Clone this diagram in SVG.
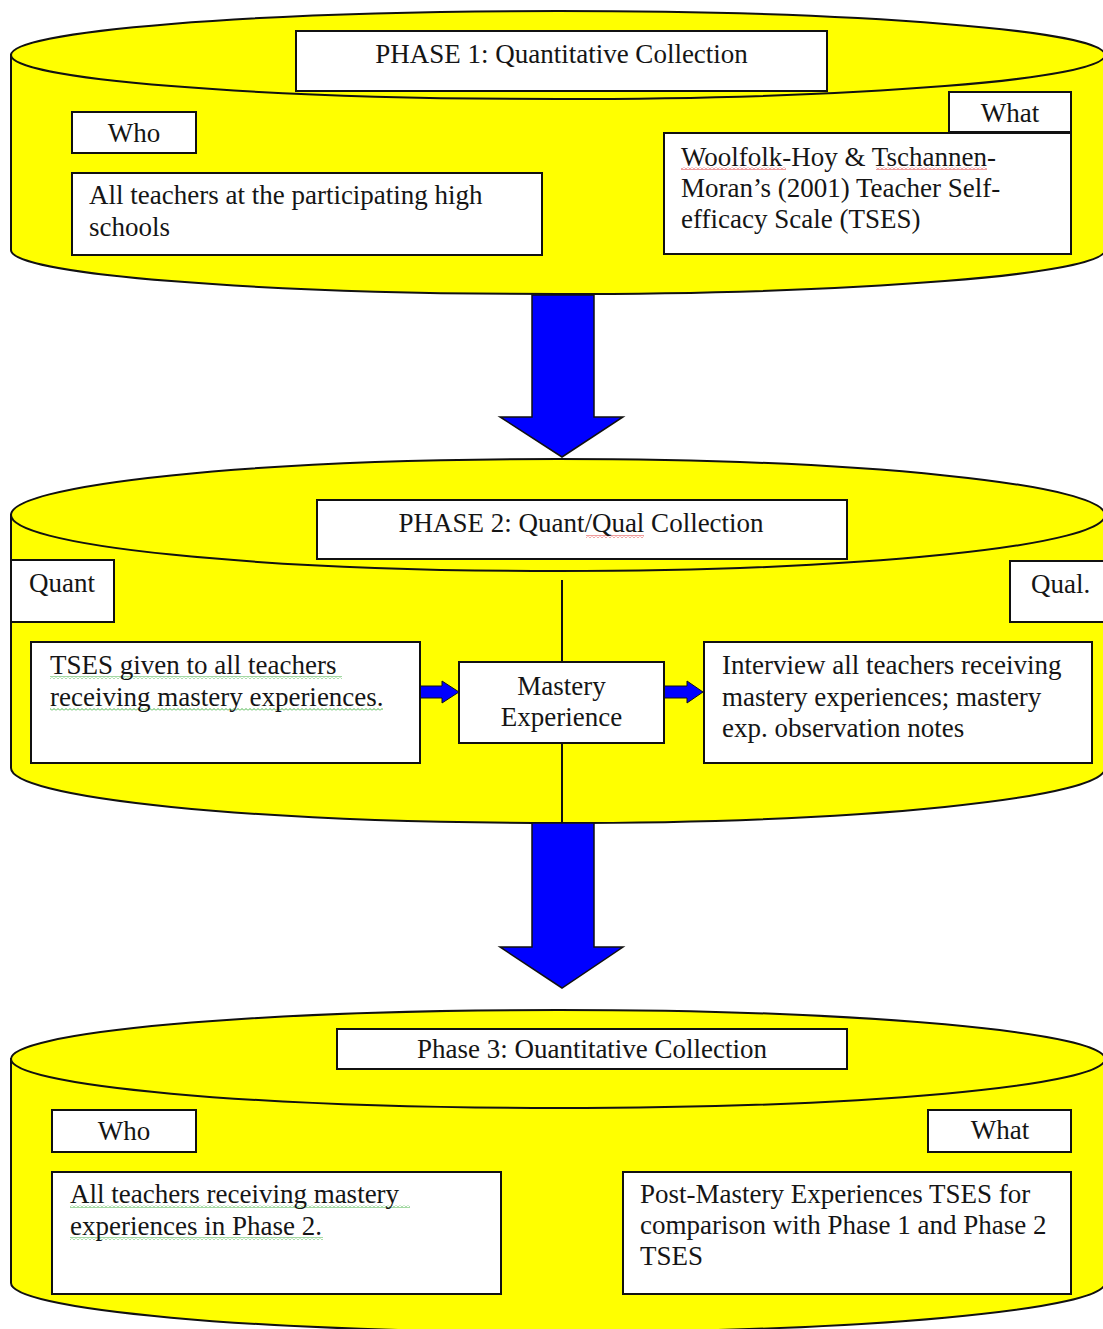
<svg xmlns="http://www.w3.org/2000/svg" width="1103" height="1329" viewBox="0 0 1103 1329">
  <defs>
    <pattern id="wavyRed" width="4" height="3" patternUnits="userSpaceOnUse">
      <path d="M0 2.5 L2 0.5 L4 2.5" fill="none" stroke="#d22" stroke-width="0.9"/>
    </pattern>
    <pattern id="wavyGreen" width="4" height="3" patternUnits="userSpaceOnUse">
      <path d="M0 2.5 L2 0.5 L4 2.5" fill="none" stroke="#3a3" stroke-width="0.9"/>
    </pattern>
  </defs>
  <style>
    .cyl { fill: #FFFF00; stroke: #111; stroke-width: 2; }
    .box { fill: #FFFFFF; stroke: #111; stroke-width: 2; }
    .t { font-family: "Liberation Serif", "Times New Roman", serif; font-size: 27px; fill: #151515; }
    .c { text-anchor: middle; }
    .big { fill: #0000FF; stroke: #111; stroke-width: 1.5; stroke-linejoin: miter; }
    .small { fill: #0000FF; stroke: #111; stroke-width: 1; }
    .ln { stroke: #111; stroke-width: 2; fill: none; }
  </style>
  <rect width="1103" height="1329" fill="#FFFFFF"/>

  <!-- Cylinders -->
  <g id="phase1-cylinder">
    <path class="cyl" d="M11,55 L11,250 A547,44 0 0 0 1105,250 L1105,55 Z"/>
    <ellipse class="cyl" cx="558" cy="55" rx="547" ry="44"/>
  </g>
  <g id="phase2-cylinder">
    <path class="cyl" d="M11,515 L11,768 A547,55 0 0 0 1105,768 L1105,515 Z"/>
    <ellipse class="cyl" cx="558" cy="515" rx="547" ry="56"/>
  </g>
  <g id="phase3-cylinder">
    <path class="cyl" d="M11,1059 L11,1283 A547,49 0 0 0 1105,1283 L1105,1059 Z"/>
    <ellipse class="cyl" cx="558" cy="1059" rx="547" ry="49"/>
  </g>

  <!-- Connectors -->
  <g id="connectors">
    <polygon class="big" points="532,295 594,295 594,417 623,417 562,457 500,417 532,417"/>
    <polygon class="big" points="532,823 594,823 594,947 623,947 562,988 500,947 532,947"/>
    <line class="ln" x1="562" y1="580" x2="562" y2="662"/>
    <line class="ln" x1="562" y1="743" x2="562" y2="823"/>
    <polygon class="small" points="398,686 442,686 442,681 459,692 442,703 442,698 398,698 404,692"/>
    <polygon class="small" points="643,686 687,686 687,681 703,692 687,703 687,698 643,698 649,692"/>
  </g>

  <!-- Phase 1 nodes -->
  <g id="p1-title">
    <rect class="box" x="296" y="31" width="531" height="60"/>
    <text class="t c" x="561.5" y="63">PHASE 1: Quantitative Collection</text>
  </g>
  <g id="p1-who">
    <rect class="box" x="72" y="112" width="124" height="41"/>
    <text class="t c" x="134" y="142">Who</text>
  </g>
  <g id="p1-who-detail">
    <rect class="box" x="72" y="173" width="470" height="82"/>
    <text class="t" x="89" y="204">All teachers at the participating high</text>
    <text class="t" x="89" y="236">schools</text>
  </g>
  <g id="p1-what">
    <rect class="box" x="949" y="92" width="122" height="40"/>
    <text class="t c" x="1010" y="122">What</text>
  </g>
  <g id="p1-what-detail">
    <rect class="box" x="664" y="133" width="407" height="121"/>
    <rect x="681" y="167" width="105" height="3" fill="url(#wavyRed)"/>
    <rect x="876" y="167" width="111" height="3" fill="url(#wavyRed)"/>
    <text class="t" x="681" y="166">Woolfolk-Hoy &amp; Tschannen-</text>
    <text class="t" x="681" y="197">Moran’s (2001) Teacher Self-</text>
    <text class="t" x="681" y="228">efficacy Scale (TSES)</text>
  </g>

  <!-- Phase 2 nodes -->
  <g id="p2-title">
    <rect class="box" x="317" y="500" width="530" height="59"/>
    <rect x="586" y="535" width="58" height="3" fill="url(#wavyRed)"/>
    <text class="t c" x="581" y="532">PHASE 2: Quant/Qual Collection</text>
  </g>
  <g id="p2-quant">
    <rect class="box" x="11" y="560" width="103" height="62"/>
    <text class="t" x="29" y="592">Quant</text>
  </g>
  <g id="p2-qual">
    <rect class="box" x="1010" y="561" width="100" height="61"/>
    <text class="t" x="1031" y="593">Qual.</text>
  </g>
  <g id="p2-quant-detail">
    <rect class="box" x="31" y="642" width="389" height="121"/>
    <rect x="50" y="676" width="292" height="3" fill="url(#wavyGreen)"/>
    <rect x="50" y="708" width="333" height="3" fill="url(#wavyGreen)"/>
    <text class="t" x="50" y="674">TSES given to all teachers</text>
    <text class="t" x="50" y="706">receiving mastery experiences.</text>
  </g>
  <g id="p2-mastery">
    <rect class="box" x="459" y="662" width="205" height="81"/>
    <text class="t c" x="561.5" y="695">Mastery</text>
    <text class="t c" x="561.5" y="726">Experience</text>
  </g>
  <g id="p2-qual-detail">
    <rect class="box" x="704" y="642" width="388" height="121"/>
    <text class="t" x="722" y="674">Interview all teachers receiving</text>
    <text class="t" x="722" y="706">mastery experiences; mastery</text>
    <text class="t" x="722" y="737">exp. observation notes</text>
  </g>

  <!-- Phase 3 nodes -->
  <g id="p3-title">
    <rect class="box" x="337" y="1029" width="510" height="40"/>
    <text class="t c" x="592" y="1058">Phase 3: Ouantitative Collection</text>
  </g>
  <g id="p3-who">
    <rect class="box" x="52" y="1110" width="144" height="42"/>
    <text class="t c" x="124" y="1140">Who</text>
  </g>
  <g id="p3-who-detail">
    <rect class="box" x="52" y="1172" width="449" height="122"/>
    <rect x="70" y="1205" width="340" height="3" fill="url(#wavyGreen)"/>
    <rect x="70" y="1237" width="253" height="3" fill="url(#wavyGreen)"/>
    <text class="t" x="70" y="1203">All teachers receiving mastery</text>
    <text class="t" x="70" y="1235">experiences in Phase 2.</text>
  </g>
  <g id="p3-what">
    <rect class="box" x="928" y="1110" width="143" height="42"/>
    <text class="t c" x="1000" y="1139">What</text>
  </g>
  <g id="p3-what-detail">
    <rect class="box" x="623" y="1172" width="448" height="122"/>
    <text class="t" x="640" y="1203">Post-Mastery Experiences TSES for</text>
    <text class="t" x="640" y="1234">comparison with Phase 1 and Phase 2</text>
    <text class="t" x="640" y="1265">TSES</text>
  </g>
</svg>
